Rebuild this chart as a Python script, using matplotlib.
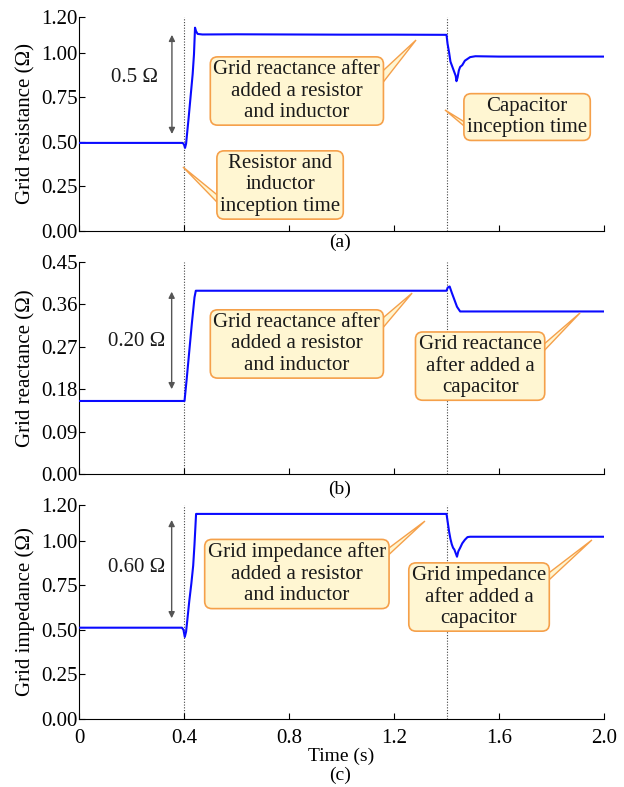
import matplotlib
matplotlib.use("Agg")
import matplotlib.pyplot as plt
from matplotlib.patches import Polygon

plt.rcParams['font.family'] = ['Liberation Serif', 'DejaVu Serif']
plt.rcParams['mathtext.fontset'] = 'stix'

# ---------------- data ----------------
t_a = [0, 0.395, 0.400, 0.404, 0.408, 0.412, 0.418, 0.423, 0.428, 0.433, 0.438, 0.442, 0.446, 0.452, 0.47,
       0.6, 0.8, 1.0, 1.2, 1.4, 1.404, 1.41, 1.415, 1.42, 1.425, 1.43, 1.435, 1.438, 1.442, 1.447, 1.452,
       1.46, 1.47, 1.48, 1.49, 1.51, 1.6, 2.0]
r_a = [0.494, 0.494, 0.485, 0.466, 0.49, 0.55, 0.64, 0.72, 0.80, 0.88, 0.99, 1.14, 1.12, 1.105, 1.102,
       1.103, 1.102, 1.101, 1.101, 1.10, 1.05, 1.00, 0.95, 0.93, 0.91, 0.89, 0.87, 0.84, 0.86, 0.90, 0.92,
       0.93, 0.955, 0.965, 0.975, 0.98, 0.978, 0.978]

t_b = [0, 0.402, 0.41, 0.42, 0.43, 0.44, 0.445, 1.0, 1.4, 1.405, 1.412, 1.42, 1.43, 1.44, 1.452, 1.46, 2.0]
x_b = [0.155, 0.155, 0.20, 0.26, 0.32, 0.375, 0.389, 0.389, 0.389, 0.396, 0.398, 0.385, 0.37, 0.355,
       0.345, 0.345, 0.345]

t_c = [0, 0.392, 0.398, 0.403, 0.408, 0.413, 0.42, 0.428, 0.435, 0.44, 0.446, 0.45, 1.0, 1.4, 1.405,
       1.41, 1.415, 1.42, 1.425, 1.43, 1.435, 1.44, 1.445, 1.452, 1.46, 1.47, 1.48, 1.49, 2.0]
z_c = [0.512, 0.512, 0.50, 0.46, 0.49, 0.56, 0.66, 0.76, 0.86, 0.98, 1.15, 1.15, 1.15, 1.15, 1.10,
       1.05, 1.01, 0.98, 0.96, 0.95, 0.93, 0.91, 0.94, 0.96, 0.985, 1.005, 1.02, 1.022, 1.022]

x_ticks = [0, 0.4, 0.8, 1.2, 1.6, 2.0]
x_ticklabels = ["0", "0.4", "0.8", "1.2", "1.6", "2.0"]
yticks_a = [0, 0.25, 0.50, 0.75, 1.00, 1.20]
yticks_b = [0, 0.09, 0.18, 0.27, 0.36, 0.45]
yticks_c = [0, 0.25, 0.50, 0.75, 1.00, 1.20]
events = [0.4, 1.4]

ylabels = ["Grid resistance (\u03a9)", "Grid reactance (\u03a9)", "Grid impedance (\u03a9)"]
panel_tags = ["(a)", "(b)", "(c)"]

# callouts: text, text center (t, v), pointer base (t, v1, v2), tip (t, v)
callouts_a = [
    ("Grid reactance after\nadded a resistor\nand inductor", (0.83, 0.785), (1.13, 0.86, 0.78), (1.284, 1.071)),
    ("Resistor and\ninductor\ninception time", (0.766, 0.258), (0.55, 0.174, 0.125), (0.396, 0.359)),
    ("Capacitor\ninception time", (1.707, 0.639), (1.50, 0.583, 0.548), (1.394, 0.679)),
]
callouts_b = [
    ("Grid reactance after\nadded a resistor\nand inductor", (0.83, 0.276), (1.13, 0.318, 0.292), (1.269, 0.384)),
    ("Grid reactance\nafter added a\ncapacitor", (1.528, 0.229), (1.745, 0.263, 0.246), (1.909, 0.342)),
]
callouts_c = [
    ("Grid impedance after\nadded a resistor\nand inductor", (0.83, 0.813), (1.15, 0.925, 0.88), (1.318, 1.110)),
    ("Grid impedance\nafter added a\ncapacitor", (1.524, 0.684), (1.765, 0.791, 0.745), (1.954, 1.004)),
]
# step arrows: t, v_low, v_high, label, label pos
steps = [
    (0.354, 0.544, 1.10, "0.5 \u03a9", (0.213, 0.858)),
    (0.353, 0.18, 0.387, "0.20 \u03a9", (0.221, 0.282)),
    (0.353, 0.565, 1.116, "0.60 \u03a9", (0.221, 0.847)),
]

# ---------------- figure ----------------
fig = plt.figure(figsize=(6.24, 7.87), dpi=100)
L, R = 79 / 624, 604 / 624
rects = [(17, 231), (262, 474), (505, 719)]
axes = []
for top, bot in rects:
    ax = fig.add_axes([L, 1 - bot / 787, R - L, (bot - top) / 787])
    axes.append(ax)

series = [(t_a, r_a), (t_b, x_b), (t_c, z_c)]
yticks = [yticks_a, yticks_b, yticks_c]
callouts = [callouts_a, callouts_b, callouts_c]

box_fc = '#fff6d2'
box_ec = '#f5a04a'
line_col = '#0a0aff'

for i, ax in enumerate(axes):
    t, v = series[i]
    ax.plot(t, v, color=line_col, lw=1.5, zorder=3)
    yt = yticks[i]
    ax.set_xlim(0, 2.0)
    ax.set_ylim(yt[0], yt[-1])
    ax.set_yticks(yt)
    ax.set_yticklabels([f"{y:.2f}" for y in yt])
    ax.set_xticks(x_ticks)
    if i == 2:
        ax.set_xticklabels(x_ticklabels)
        ax.set_xlabel("Time (s)", fontsize=14, labelpad=0)
    else:
        ax.set_xticklabels([])
    ax.spines['top'].set_visible(False)
    ax.spines['right'].set_visible(False)
    ax.tick_params(direction='in', length=4, width=0.8, labelsize=15)
    ax.tick_params(axis='y', pad=1)
    ax.tick_params(axis='x', pad=7)
    ax.set_ylabel(ylabels[i], fontsize=15, labelpad=4)
    for e in events:
        ax.axvline(e, color='#444444', ls=(0, (1, 1.5)), lw=0.8, zorder=1)

    # step arrow
    st, lo, hi, lab, lp = steps[i]
    ax.annotate("", xy=(st, hi), xytext=(st, lo),
                arrowprops=dict(arrowstyle='<|-|>', color='#555555', lw=1.0,
                                mutation_scale=9, shrinkA=0, shrinkB=0), zorder=4)
    ax.text(lp[0], lp[1], lab, fontsize=15, ha='center', va='center', color='#1a1a1a')

    # callouts
    for text, c, base, tip in callouts[i]:
        poly = Polygon([(base[0], base[1]), tip, (base[0], base[2])], closed=True,
                       fc=box_fc, ec=box_ec, lw=1.0, zorder=5)
        ax.add_patch(poly)
        ax.text(c[0], c[1], text, fontsize=15, ha='center', va='center', color='#1a1a1a',
                linespacing=1.18, zorder=6,
                bbox=dict(boxstyle='round,pad=0.15,rounding_size=0.35', fc=box_fc, ec=box_ec, lw=1.2))

# panel tags
fig.text(340 / 624, 1 - 242 / 787, panel_tags[0], ha='center', va='center', fontsize=14)
fig.text(340 / 624, 1 - 489 / 787, panel_tags[1], ha='center', va='center', fontsize=14)
fig.text(340 / 624, 1 - 775 / 787, panel_tags[2], ha='center', va='center', fontsize=14)

fig.savefig("out.png", dpi=100)
